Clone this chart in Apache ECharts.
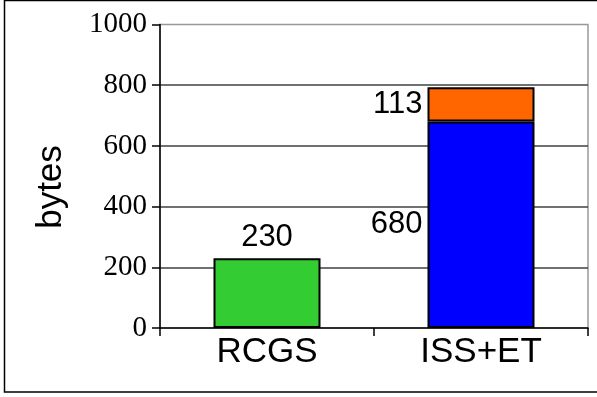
<!DOCTYPE html>
<html>
<head>
<meta charset="utf-8">
<script src="https://cdn.jsdelivr.net/npm/echarts@6/dist/echarts.min.js"></script>
<style>
  html, body { margin: 0; padding: 0; background: #fff; }
  #chart { width: 597px; height: 397px; }
</style>
</head>
<body>
<div id="chart"></div>
<script>
// Message sizes in bytes for the two schemes
const categories = ['RCGS', 'ISS+ET'];
const rcgsValues = [230, '-'];
const issValues = ['-', 680];
const etValues = ['-', 113];
const yTicks = { min: 0, max: 1000, interval: 200 };

const chart = echarts.init(document.getElementById('chart'), null, { renderer: 'canvas' });

const barBorder = { borderColor: '#000', borderWidth: 2 };
const valueLabel = {
  show: true,
  fontFamily: 'Liberation Sans, Arial, sans-serif',
  fontSize: 31,
  color: '#000',
  distance: 5
};

chart.setOption({
  animation: false,
  backgroundColor: '#fff',
  grid: {
    left: 160, right: 9, top: 24.5, bottom: 69,
    show: true, borderColor: '#999', borderWidth: 1.5, backgroundColor: 'transparent'
  },
  graphic: [
    {
      type: 'rect',
      shape: { x: 4.5, y: 0.5, width: 620, height: 391.5 },
      style: { fill: 'none', stroke: '#000', lineWidth: 1.5 },
      silent: true
    },
    {
      type: 'text',
      x: 51, y: 187,
      rotation: Math.PI / 2,
      style: {
        text: 'bytes',
        fontFamily: 'Liberation Sans, Arial, sans-serif',
        fontSize: 35,
        fill: '#000',
        align: 'center',
        verticalAlign: 'middle'
      }
    }
  ],
  xAxis: {
    type: 'category',
    data: categories,
    axisLine: { show: true, lineStyle: { color: '#000', width: 1.5 } },
    axisTick: { show: true, length: 8, alignWithLabel: false, lineStyle: { color: '#000', width: 1.5 } },
    axisLabel: {
      fontFamily: 'Liberation Sans, Arial, sans-serif',
      fontSize: 35,
      color: '#000',
      margin: 7
    },
    splitLine: { show: false }
  },
  yAxis: {
    type: 'value',
    min: yTicks.min,
    max: yTicks.max,
    interval: yTicks.interval,
    axisLine: { show: true, lineStyle: { color: '#000', width: 1.5 } },
    axisTick: { show: true, length: 8, lineStyle: { color: '#000', width: 1.5 } },
    axisLabel: {
      fontFamily: 'Liberation Serif, Times New Roman, serif',
      fontSize: 29,
      color: '#000',
      margin: 13,
      padding: [5, 0, 0, 0],
      formatter: v => String(v)
    },
    splitLine: {
      show: true,
      showMinLine: false,
      showMaxLine: false,
      lineStyle: { color: '#404040', width: 1.5 }
    }
  },
  series: [
    {
      name: 'RCGS',
      type: 'bar',
      stack: 'total',
      barWidth: '50%',
      data: rcgsValues,
      itemStyle: Object.assign({ color: '#33CC33' }, barBorder),
      label: Object.assign({ position: 'top' }, valueLabel)
    },
    {
      name: 'ISS',
      type: 'bar',
      stack: 'total',
      barWidth: '50%',
      data: issValues,
      itemStyle: Object.assign({ color: '#0000FF' }, barBorder),
      label: Object.assign({ position: 'left' }, valueLabel)
    },
    {
      name: 'ET',
      type: 'bar',
      stack: 'total',
      barWidth: '50%',
      data: etValues,
      itemStyle: Object.assign({ color: '#FF6600' }, barBorder),
      label: Object.assign({ position: 'left' }, valueLabel)
    }
  ]
});
</script>
</body>
</html>
